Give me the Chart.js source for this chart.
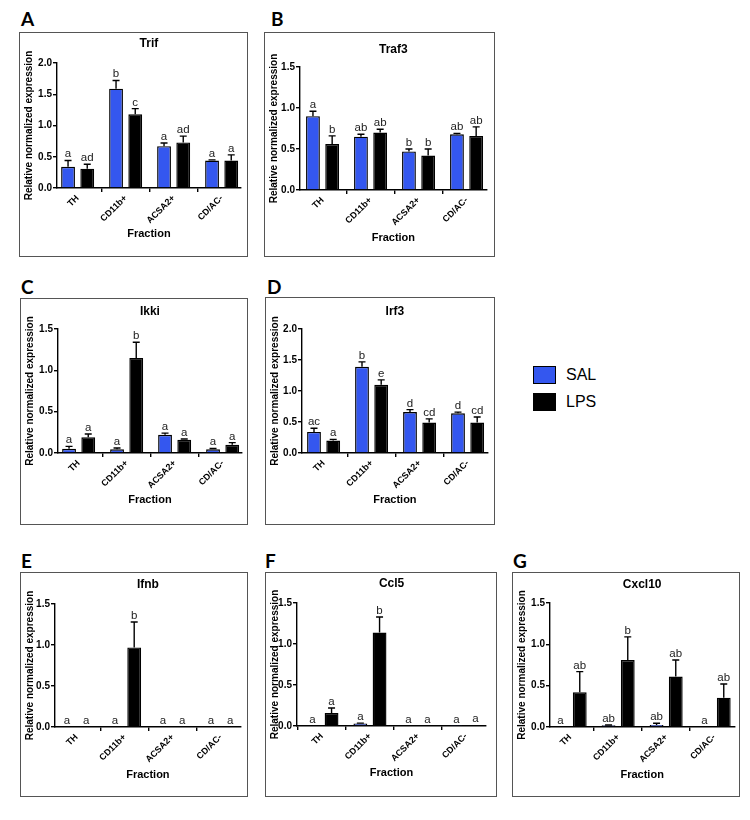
<!DOCTYPE html>
<html>
<head>
<meta charset="utf-8">
<script src="https://cdn.jsdelivr.net/npm/chart.js@4.4.1/dist/chart.umd.min.js"></script>
<style>
  body { margin: 0; background: #fff; width: 750px; height: 820px; position: relative; overflow: hidden;
         font-family: "Liberation Sans", Arial, sans-serif; }
  .panel { position: absolute; border: 1px solid #555; box-sizing: border-box; }
  .panel div { position: relative; width: 100%; height: 100%; }
  .letter { position: absolute; font-family: Lato, "Open Sans", sans-serif; font-weight: bold;
            font-size: 19px; line-height: 19px; color: #000; }
  .key { position: absolute; width: 23px; height: 18px; box-sizing: border-box; border: 1.5px solid #000; }
  .keytext { position: absolute; font-size: 16px; line-height: 16px; color: #000; }
</style>
</head>
<body>

<script>
// categories
const fractions = ['TH', 'CD11b+', 'ACSA2+', 'CD/AC-'];

// Trif
const trifSal = [0.34, 1.59, 0.67, 0.44];
const trifSalErr = [0.10, 0.13, 0.05, 0.01];
const trifLps = [0.31, 1.18, 0.73, 0.44];
const trifLpsErr = [0.07, 0.09, 0.10, 0.09];
const trifSalLetters = ['a', 'b', 'a', 'a'];
const trifLpsLetters = ['ad', 'c', 'ad', 'a'];

// Traf3
const traf3Sal = [0.90, 0.65, 0.47, 0.68];
const traf3SalErr = [0.06, 0.03, 0.03, 0.01];
const traf3Lps = [0.56, 0.70, 0.42, 0.66];
const traf3LpsErr = [0.10, 0.04, 0.08, 0.11];
const traf3SalLetters = ['a', 'ab', 'b', 'ab'];
const traf3LpsLetters = ['b', 'ab', 'b', 'ab'];

// Ikki
const ikkiSal = [0.05, 0.045, 0.22, 0.045];
const ikkiSalErr = [0.03, 0.015, 0.02, 0.01];
const ikkiLps = [0.19, 1.15, 0.16, 0.10];
const ikkiLpsErr = [0.04, 0.19, 0.01, 0.025];
const ikkiSalLetters = ['a', 'a', 'a', 'a'];
const ikkiLpsLetters = ['a', 'b', 'a', 'a'];

// Irf3
const irf3Sal = [0.34, 1.39, 0.66, 0.64];
const irf3SalErr = [0.06, 0.08, 0.04, 0.02];
const irf3Lps = [0.20, 1.10, 0.49, 0.49];
const irf3LpsErr = [0.02, 0.08, 0.06, 0.09];
const irf3SalLetters = ['ac', 'b', 'd', 'd'];
const irf3LpsLetters = ['a', 'e', 'cd', 'cd'];

// Ifnb
const ifnbSal = [0, 0, 0, 0];
const ifnbSalErr = [0, 0, 0, 0];
const ifnbLps = [0, 0.97, 0, 0];
const ifnbLpsErr = [0, 0.31, 0, 0];
const ifnbSalLetters = ['a', 'a', 'a', 'a'];
const ifnbLpsLetters = ['a', 'b', 'a', 'a'];

// Ccl5
const ccl5Sal = [0, 0.03, 0, 0.005];
const ccl5SalErr = [0, 0.005, 0, 0];
const ccl5Lps = [0.16, 1.14, 0.005, 0.01];
const ccl5LpsErr = [0.06, 0.19, 0, 0];
const ccl5SalLetters = ['a', 'a', 'a', 'a'];
const ccl5LpsLetters = ['a', 'b', 'a', 'a'];

// Cxcl10
const cxcl10Sal = [0, 0.02, 0.025, 0];
const cxcl10SalErr = [0, 0.005, 0.02, 0];
const cxcl10Lps = [0.42, 0.81, 0.61, 0.355];
const cxcl10LpsErr = [0.25, 0.28, 0.20, 0.165];
const cxcl10SalLetters = ['a', 'ab', 'ab', 'a'];
const cxcl10LpsLetters = ['ab', 'b', 'ab', 'ab'];

const yTicksTwo = [0, 0.5, 1.0, 1.5, 2.0];
const yTicksOneHalf = [0, 0.5, 1.0, 1.5];

const salColor = '#3457ef';
const lpsColor = '#000000';
const FONT = '"Liberation Sans", Arial, sans-serif';

const panels = [
  { tag: 'A', title: 'Trif',   sal: trifSal,   salErr: trifSalErr,   lps: trifLps,   lpsErr: trifLpsErr,   salL: trifSalLetters,   lpsL: trifLpsLetters,   ticks: yTicksTwo },
  { tag: 'B', title: 'Traf3',  sal: traf3Sal,  salErr: traf3SalErr,  lps: traf3Lps,  lpsErr: traf3LpsErr,  salL: traf3SalLetters,  lpsL: traf3LpsLetters,  ticks: yTicksOneHalf },
  { tag: 'C', title: 'Ikki',   sal: ikkiSal,   salErr: ikkiSalErr,   lps: ikkiLps,   lpsErr: ikkiLpsErr,   salL: ikkiSalLetters,   lpsL: ikkiLpsLetters,   ticks: yTicksOneHalf },
  { tag: 'D', title: 'Irf3',   sal: irf3Sal,   salErr: irf3SalErr,   lps: irf3Lps,   lpsErr: irf3LpsErr,   salL: irf3SalLetters,   lpsL: irf3LpsLetters,   ticks: yTicksTwo },
  { tag: 'E', title: 'Ifnb',   sal: ifnbSal,   salErr: ifnbSalErr,   lps: ifnbLps,   lpsErr: ifnbLpsErr,   salL: ifnbSalLetters,   lpsL: ifnbLpsLetters,   ticks: yTicksOneHalf },
  { tag: 'F', title: 'Ccl5',   sal: ccl5Sal,   salErr: ccl5SalErr,   lps: ccl5Lps,   lpsErr: ccl5LpsErr,   salL: ccl5SalLetters,   lpsL: ccl5LpsLetters,   ticks: yTicksOneHalf },
  { tag: 'G', title: 'Cxcl10', sal: cxcl10Sal, salErr: cxcl10SalErr, lps: cxcl10Lps, lpsErr: cxcl10LpsErr, salL: cxcl10SalLetters, lpsL: cxcl10LpsLetters, ticks: yTicksOneHalf },
];

// box: left, top, width, height; axisX / plotTop / plotBottom / titleY / fracY relative to the box
const layouts = [
  { box: [19, 32, 229, 225],  axisX: 38, plotTop: 31, plotBottom: 156, titleY: 12, fracY: 202, xMin: -0.43, xMax: 3.40, letter: [21, 9] },
  { box: [264, 32, 231, 225], axisX: 36, plotTop: 35, plotBottom: 158, titleY: 18, fracY: 206, xMin: -0.47, xMax: 3.42, letter: [271, 9] },
  { box: [20, 298, 228, 227], axisX: 38, plotTop: 31, plotBottom: 155, titleY: 14, fracY: 202, xMin: -0.43, xMax: 3.40, letter: [21, 277] },
  { box: [265, 297, 230, 228], axisX: 37, plotTop: 32, plotBottom: 156, titleY: 15, fracY: 203, xMin: -0.45, xMax: 3.42, letter: [267, 277] },
  { box: [20, 572, 228, 225], axisX: 35, plotTop: 32, plotBottom: 155, titleY: 13, fracY: 203, xMin: -0.45, xMax: 3.42, letter: [21, 551] },
  { box: [265, 572, 232, 225], axisX: 32, plotTop: 31, plotBottom: 154, titleY: 12, fracY: 201, xMin: -0.52, xMax: 3.42, letter: [265, 551] },
  { box: [512, 572, 228, 225], axisX: 38, plotTop: 31, plotBottom: 155, titleY: 13, fracY: 203, xMin: -0.42, xMax: 3.42, letter: [513, 551] },
];
const catSpacing = 48;

// error bars + significance letters, drawn from the y scale
const errorBars = {
  id: 'errorBars',
  afterDatasetsDraw(chart) {
    const ctx = chart.ctx;
    const yScale = chart.scales.y;
    chart.data.datasets.forEach((ds, i) => {
      const meta = chart.getDatasetMeta(i);
      meta.data.forEach((bar, j) => {
        const v = ds.data[j].y;
        const err = ds.errors[j];
        const top = yScale.getPixelForValue(v + err);
        ctx.save();
        if (err > 0.004) {
          ctx.strokeStyle = '#000';
          ctx.lineWidth = 1.4;
          ctx.beginPath();
          ctx.moveTo(bar.x, bar.y);
          ctx.lineTo(bar.x, top);
          ctx.moveTo(bar.x - 3.5, top);
          ctx.lineTo(bar.x + 3.5, top);
          ctx.stroke();
        }
        ctx.fillStyle = '#222';
        ctx.font = '11.5px ' + FONT;
        ctx.textAlign = 'center';
        ctx.textBaseline = 'bottom';
        ctx.fillText(ds.letters[j], bar.x, top - 0.5);
        ctx.restore();
      });
    });
  }
};

// gene title centred over the plot area
const geneTitle = {
  id: 'geneTitle',
  afterDraw(chart, args, opts) {
    const ctx = chart.ctx;
    const a = chart.chartArea;
    ctx.save();
    ctx.fillStyle = '#000';
    ctx.font = 'bold 12px ' + FONT;
    ctx.textAlign = 'center';
    ctx.textBaseline = 'middle';
    ctx.fillText(opts.text, (a.left + a.right) / 2, opts.y);
    ctx.restore();
  }
};

panels.forEach((p, k) => {
  const L = layouts[k];
  const [bx, by, bw, bh] = L.box;

  const wrap = document.createElement('div');
  wrap.className = 'panel';
  wrap.style.left = bx + 'px';
  wrap.style.top = by + 'px';
  wrap.style.width = bw + 'px';
  wrap.style.height = bh + 'px';
  const inner = document.createElement('div');
  const canvas = document.createElement('canvas');
  inner.appendChild(canvas);
  wrap.appendChild(inner);
  document.body.appendChild(wrap);

  const tag = document.createElement('div');
  tag.className = 'letter';
  tag.textContent = p.tag;
  tag.style.left = L.letter[0] + 'px';
  tag.style.top = L.letter[1] + 'px';
  document.body.appendChild(tag);

  const cw = bw - 2, ch = bh - 2;
  const plotW = (L.xMax - L.xMin) * catSpacing;
  const padRight = Math.max(cw - (L.axisX - 1) - plotW, 0);
  const xHeight = ch - (L.plotBottom - 1);
  const fracPad = ch - (L.fracY - 1) - 6.6;
  const yMax = p.ticks[p.ticks.length - 1];

  new Chart(canvas, {
    type: 'bar',
    data: {
      datasets: [
        {
          label: 'SAL',
          data: p.sal.map((v, i) => ({ x: i, y: v })),
          errors: p.salErr,
          letters: p.salL,
          backgroundColor: salColor,
          borderColor: '#000',
          borderWidth: 1.4,
          categoryPercentage: 0.8,
          barPercentage: 0.72
        },
        {
          label: 'LPS',
          data: p.lps.map((v, i) => ({ x: i, y: v })),
          errors: p.lpsErr,
          letters: p.lpsL,
          backgroundColor: lpsColor,
          borderColor: '#000',
          borderWidth: 1.4,
          categoryPercentage: 0.8,
          barPercentage: 0.72
        }
      ]
    },
    options: {
      responsive: true,
      maintainAspectRatio: false,
      animation: false,
      layout: { padding: { top: L.plotTop - 1, right: padRight, bottom: 0, left: 0 } },
      plugins: {
        legend: { display: false },
        tooltip: { enabled: false },
        geneTitle: { text: p.title, y: L.titleY - 1 }
      },
      scales: {
        x: {
          type: 'linear',
          min: L.xMin,
          max: L.xMax,
          offset: false,
          afterFit(s) { s.height = xHeight; },
          afterBuildTicks(s) { s.ticks = fractions.map((f, i) => ({ value: i })); },
          ticks: {
            autoSkip: false,
            maxRotation: 45,
            minRotation: 45,
            padding: 1,
            color: '#000',
            font: { family: FONT, size: 9, weight: 'bold' },
            callback: v => fractions[v]
          },
          grid: { drawOnChartArea: false, drawTicks: true, tickLength: 4, color: '#000', lineWidth: 1.4 },
          border: { display: true, color: '#000', width: 1.4 },
          title: {
            display: true,
            text: 'Fraction',
            color: '#000',
            font: { family: FONT, size: 11, weight: 'bold' },
            padding: { top: 0, bottom: fracPad }
          }
        },
        y: {
          min: 0,
          max: yMax,
          afterFit(s) { s.width = L.axisX - 1; },
          afterBuildTicks(s) { s.ticks = p.ticks.map(v => ({ value: v })); },
          ticks: {
            padding: 1,
            color: '#000',
            font: { family: FONT, size: 10, weight: 'bold' },
            callback: v => v.toFixed(1)
          },
          grid: { drawOnChartArea: false, drawTicks: true, tickLength: 4, color: '#000', lineWidth: 1.4 },
          border: { display: true, color: '#000', width: 1.4 },
          title: {
            display: true,
            text: 'Relative normalized expression',
            color: '#000',
            font: { family: FONT, size: 10, weight: 'bold' },
            padding: { top: 3, bottom: 0 }
          }
        }
      }
    },
    plugins: [errorBars, geneTitle]
  });
});

// legend
const legendItems = [['SAL', salColor, 366], ['LPS', lpsColor, 393]];
legendItems.forEach(([name, color, top]) => {
  const key = document.createElement('div');
  key.className = 'key';
  key.style.left = '533px';
  key.style.top = top + 'px';
  key.style.background = color;
  document.body.appendChild(key);
  const t = document.createElement('div');
  t.className = 'keytext';
  t.textContent = name;
  t.style.left = '566px';
  t.style.top = (top + 1) + 'px';
  document.body.appendChild(t);
});
</script>
</body>
</html>
